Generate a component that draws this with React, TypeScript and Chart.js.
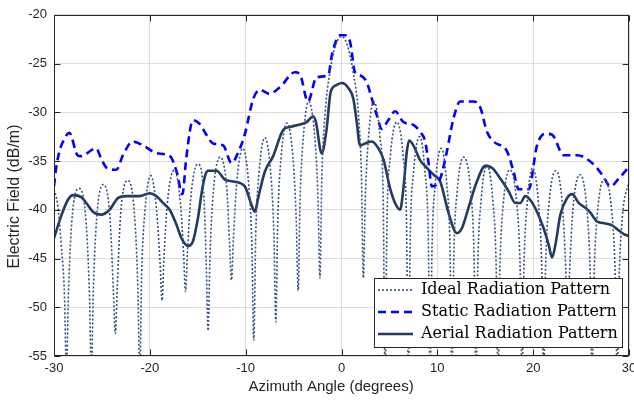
import React, { useEffect, useRef } from 'react';
import { Chart, registerables } from 'chart.js';

Chart.register(...registerables);

const seriesLabels = ['Ideal Radiation Pattern', 'Static Radiation Pattern', 'Aerial Radiation Pattern'];
const xTickValues = [-30, -20, -10, 0, 10, 20, 30];
const yTickValues = [-55, -50, -45, -40, -35, -30, -25, -20];
const xTitle = 'Azimuth Angle (degrees)';
const yTitle = 'Electric Field (dB/m)';

const idealAngle = [
  -30, -29.6, -29.25, -28.9, -28.7,
  -28.5, -28.15, -27.4, -26.65, -26.3, -26.1,
  -25.9, -25.55, -24.85, -24.15, -23.8, -23.6,
  -23.4, -23.05, -22.3, -21.6, -21.25, -21.05,
  -20.85, -20.5, -19.9, -19.3, -18.93, -18.73,
  -18.53, -18.18, -17.45, -16.8, -16.48, -16.28,
  -16.08, -15.73, -15.0, -14.35, -14.12, -13.92,
  -13.72, -13.37, -12.65, -11.95, -11.68, -11.48,
  -11.28, -10.93, -10.3, -9.7, -9.35, -9.15,
  -8.95, -8.6, -8.0, -7.4, -7.05, -6.85,
  -6.65, -6.3, -5.7, -5.07, -4.72, -4.52,
  -4.32, -3.97, -3.45, -2.8, -2.45, -2.25,
  -2.05, -1.7, -1.2, -0.6, 0, 0.6, 1.2, 1.75, 2.08, 2.28,
  2.48, 2.83, 3.35, 4.0, 4.35, 4.55,
  4.75, 5.1, 5.77, 6.43, 6.78, 6.98,
  7.18, 7.53, 8.15, 8.7, 9.05, 9.25,
  9.45, 9.8, 10.4, 10.97, 11.32, 11.52,
  11.72, 12.07, 12.75, 13.48, 13.83, 14.03,
  14.23, 14.58, 15.18, 15.78, 16.13, 16.33,
  16.53, 16.88, 17.55, 18.29, 18.64, 18.84,
  19.04, 19.39, 19.95, 20.54, 20.89, 21.09,
  21.29, 21.64, 22.38, 23.05, 23.4, 23.6,
  23.8, 24.15, 24.9, 25.6, 25.95, 26.15,
  26.35, 26.7, 27.4, 28.22, 28.57, 28.77,
  28.97, 29.32, 30,
];
const idealField = [
  -37.9, -39.6, -43.5, -49.0, -57,
  -48.8, -41.3, -37.8, -41.3, -48.8, -57,
  -48.4, -40.9, -37.4, -40.9, -48.4, -52.7,
  -48.0, -40.5, -37.0, -40.5, -48.0, -57,
  -46.5, -40.0, -36.5, -40.0, -45.5, -49.3,
  -45.0, -39.4, -35.9, -39.4, -44.5, -48.4,
  -44.5, -38.8, -35.3, -38.8, -45.3, -52.4,
  -44.6, -38.1, -34.6, -38.1, -43.5, -47.2,
  -43.0, -37.2, -33.7, -37.2, -43.7, -53.4,
  -42.6, -36.1, -32.6, -36.1, -42.6, -51.5,
  -41.1, -34.6, -31.1, -34.6, -41.1, -48.3,
  -38.9, -32.4, -28.9, -32.4, -38.9, -47.0,
  -36.5, -30.0, -25.8, -23.1, -22.2, -23.1, -25.8, -30.0, -36.5, -47.0,
  -38.9, -32.4, -28.9, -32.4, -38.9, -57,
  -41.0, -34.5, -31.0, -34.5, -41.0, -57,
  -42.5, -36.0, -32.5, -36.0, -42.5, -57,
  -43.7, -37.2, -33.7, -37.2, -43.7, -57,
  -44.6, -38.1, -34.6, -38.1, -44.6, -57,
  -45.4, -38.9, -35.4, -38.9, -45.4, -57,
  -45.9, -39.4, -35.9, -39.4, -45.9, -57,
  -45.7, -39.2, -35.7, -39.2, -45.7, -57,
  -46.0, -39.5, -36.0, -39.5, -46.0, -52,
  -46.4, -39.9, -36.4, -39.9, -46.4, -57,
  -46.9, -40.4, -36.9, -40.4, -46.9, -57,
  -47.1, -40.6, -37.1,
];

const staticAngle = [
  -30, -29.77, -29.43, -28.9, -28.4, -27.55, -27.2, -25.6, -25.1, -24.5,
  -23.5, -22.8, -21.8, -20.7, -19.3, -17.9, -17.2, -16.6, -16.2, -15.5,
  -14.8, -14.1, -13.4, -12.35, -11.48, -10.6, -10.1, -9.2, -8.5, -7.5,
  -6.4, -4.86, -4.34, -3.5, -2.6, -1.38, -1.02, -0.5, -0.16, 0.37,
  0.9, 1.41, 1.93, 2.63, 3.16, 3.68, 4.2, 4.89, 5.6, 6.46,
  7.5, 8.2, 8.73, 9.07, 9.43, 10.3, 11.0, 11.69, 12.39, 13.78,
  14.48, 15.18, 15.87, 17.27, 17.96, 18.48, 19.53, 20.4, 21.27, 21.97,
  23.18, 24.58, 26.15, 27.2, 28.07, 28.93, 30,
];
const staticField = [
  -37.6, -35.7, -34.0, -32.7, -32.1, -34.4, -34.5, -33.7, -34.7, -35.7,
  -35.9, -34.4, -33.0, -33.4, -34.2, -34.5, -36.1, -38.4, -34.7, -30.8,
  -31.2, -32.3, -33.2, -33.4, -35.2, -33.7, -32.3, -28.6, -27.7, -28.1,
  -27.4, -25.9, -26.1, -28.9, -26.4, -26.2, -24.2, -22.5, -22.1, -22.1,
  -22.8, -25.9, -26.2, -26.9, -28.6, -30.3, -31.7, -30.8, -29.9, -31.0,
  -31.3, -32.0, -33.0, -35.1, -37.6, -36.8, -34.0, -30.6, -28.9, -28.9,
  -29.5, -32.0, -33.0, -34.0, -36.1, -37.9, -37.9, -33.4, -32.2, -32.3,
  -34.4, -34.4, -35.2, -36.4, -37.6, -36.8, -35.6,
];

const aerialAngle = [
  -30, -29.2, -28.56, -28.03, -27.16, -26.63, -25.94, -25.07, -24.2, -23.33,
  -22.45, -21.06, -20.02, -19.32, -18.63, -17.93, -17.23, -16.7, -16.01, -15.49,
  -14.97, -14.55, -14.2, -13.92, -13.04, -12.18, -11.31, -10.09, -9.39, -9.04,
  -8.7, -8.0, -7.13, -6.08, -5.38, -4.16, -3.64, -2.95, -2.67, -2.07,
  -1.55, -1.13, -0.5, 0.02, 0.71, 1.23, 1.59, 1.93, 2.46, 3.16,
  3.85, 4.37, 5.07, 5.59, 6.11, 6.46, 6.82, 7.06, 7.5, 8.2,
  8.9, 9.6, 10.3, 11.16, 12.04, 12.56, 13.25, 14.13, 15.0, 15.7,
  16.57, 17.44, 18.14, 18.66, 19.18, 19.7, 20.4, 21.09, 21.62, 21.97,
  22.32, 22.84, 23.54, 24.06, 24.75, 25.45, 25.97, 26.67, 27.54, 28.24,
  28.77, 29.46, 30,
];
const aerialField = [
  -42.9, -40.5, -39.0, -38.5, -38.7, -39.3, -40.2, -40.5, -40.0, -38.8,
  -38.6, -38.6, -38.3, -38.6, -39.3, -40.0, -41.5, -42.9, -43.7, -43.2,
  -40.8, -38.0, -36.4, -36.0, -36.0, -36.9, -37.1, -37.6, -39.5, -40.2,
  -38.8, -36.1, -34.5, -31.8, -31.5, -31.2, -31.0, -30.4, -31.0, -34.2,
  -31.7, -27.9, -27.2, -27.0, -27.5, -28.6, -31.0, -33.4, -33.2, -33.0,
  -33.7, -34.8, -37.8, -39.3, -40.0, -37.8, -34.0, -32.9, -33.4, -34.9,
  -35.7, -36.4, -37.1, -40.3, -42.4, -41.9, -39.8, -37.1, -35.5, -35.7,
  -36.8, -38.1, -39.3, -39.3, -38.6, -39.0, -40.2, -41.9, -43.6, -44.9,
  -43.6, -40.5, -38.8, -38.4, -39.3, -39.8, -40.3, -41.2, -41.4, -41.6,
  -42.0, -42.5, -42.7,
];

const toPoints = (xs: number[], ys: number[]) => xs.map((x, i) => ({ x, y: ys[i] }));

const AXIS_COLOR = '#262626';

const frameLegendPlugin = {
  id: 'frameLegend',
  afterLayout(chart: any) {
    const lg = chart.legend;
    const ca = chart.chartArea;
    if (!lg) return;
    lg.left = ca.right - 257;
    lg.top = ca.bottom - 80;
    lg.right = ca.right;
    lg.bottom = ca.bottom;
  },
  afterDatasetsDraw(chart: any) {
    const { ctx, chartArea: ca, scales } = chart;
    ctx.save();
    const l = Math.round(ca.left) + 0.5;
    const r = Math.round(ca.right) - 0.5;
    const t = Math.round(ca.top) + 0.5;
    const b = Math.round(ca.bottom) - 0.5;
    ctx.strokeStyle = AXIS_COLOR;
    ctx.lineWidth = 1;
    ctx.setLineDash([]);
    ctx.strokeRect(l, t, r - l, b - t);
    const tl = 6;
    ctx.beginPath();
    scales.x.ticks.forEach((tk: any) => {
      const x = Math.round(scales.x.getPixelForValue(tk.value)) + 0.5;
      ctx.moveTo(x, b); ctx.lineTo(x, b - tl);
      ctx.moveTo(x, t); ctx.lineTo(x, t + tl);
    });
    scales.y.ticks.forEach((tk: any) => {
      const y = Math.round(scales.y.getPixelForValue(tk.value)) + 0.5;
      ctx.moveTo(l, y); ctx.lineTo(l + tl, y);
      ctx.moveTo(r, y); ctx.lineTo(r - tl, y);
    });
    ctx.stroke();

    const lg = chart.legend;
    if (lg && lg.legendHitBoxes && lg.legendHitBoxes.length) {
      const hb = lg.legendHitBoxes;
      const bl = Math.min(...hb.map((h: any) => h.left)) - 4;
      const bt = Math.min(...hb.map((h: any) => h.top)) - 4;
      const br = Math.max(...hb.map((h: any) => h.left + h.width)) + 4;
      const bb = Math.max(...hb.map((h: any) => h.top + h.height)) + 5;
      const x0 = Math.round(bl) + 0.5, y0 = Math.round(bt) + 0.5;
      const x1 = Math.round(br) + 0.5, y1 = Math.round(bb) + 0.5;
      ctx.fillStyle = '#ffffff';
      ctx.fillRect(x0, y0, x1 - x0, y1 - y0);
      ctx.strokeStyle = AXIS_COLOR;
      ctx.lineWidth = 1;
      ctx.strokeRect(x0, y0, x1 - x0, y1 - y0);
      ctx.restore();
      lg.draw();
    } else {
      ctx.restore();
    }
  },
};

export default function App() {
  const ref = useRef<HTMLCanvasElement>(null);
  useEffect(() => {
    const canvas = ref.current;
    if (!canvas) return;
    const sans = '"Liberation Sans", Arial, Helvetica, sans-serif';
    const tickFont = { family: sans, size: 13 };
    const chart = new Chart(canvas, {
      type: 'line',
      data: {
        datasets: [
          {
            label: seriesLabels[0],
            data: toPoints(idealAngle, idealField),
            borderColor: '#34507f',
            backgroundColor: '#34507f',
            borderWidth: 1.6,
            borderDash: [2, 2],
            pointRadius: 0,
            cubicInterpolationMode: 'monotone',
            clip: 0,
          },
          {
            label: seriesLabels[1],
            data: toPoints(staticAngle, staticField),
            borderColor: '#0000ff',
            backgroundColor: '#0000ff',
            borderWidth: 2.6,
            borderDash: [8, 5],
            pointRadius: 0,
            cubicInterpolationMode: 'monotone',
            clip: 0,
          },
          {
            label: seriesLabels[2],
            data: toPoints(aerialAngle, aerialField),
            borderColor: '#243a60',
            backgroundColor: '#243a60',
            borderWidth: 2.6,
            pointRadius: 0,
            cubicInterpolationMode: 'monotone',
            clip: 0,
          },
        ] as any,
      },
      options: {
        animation: false,
        responsive: false,
        maintainAspectRatio: false,
        events: [],
        layout: { padding: { left: 0, right: 5, top: 12, bottom: 0 } },
        plugins: {
          tooltip: { enabled: false },
          legend: {
            display: true,
            position: 'chartArea' as any,
            align: 'start',
            labels: {
              usePointStyle: true,
              pointStyleWidth: 35,
              padding: 6,
              color: '#000000',
              font: { family: '"DejaVu Serif", "Liberation Serif", serif', size: 16 },
              generateLabels: (ch: any) =>
                ch.data.datasets.map((ds: any, i: number) => ({
                  text: ds.label,
                  strokeStyle: ds.borderColor,
                  fillStyle: ds.borderColor,
                  lineWidth: ds.borderWidth,
                  lineDash: ds.borderDash || [],
                  lineCap: 'butt',
                  pointStyle: 'line',
                  hidden: false,
                  fontColor: '#000000',
                  datasetIndex: i,
                })),
            },
          },
        },
        scales: {
          x: {
            type: 'linear',
            min: -30,
            max: 30,
            afterBuildTicks: (s: any) => { s.ticks = xTickValues.map((v) => ({ value: v })); },
            afterFit: (s: any) => { s.height = 45; s.paddingLeft = 0; s.paddingRight = 0; },
            grid: { color: '#dedede', lineWidth: 1, drawTicks: false },
            border: { display: false },
            ticks: { color: AXIS_COLOR, font: tickFont, padding: 5, maxRotation: 0 },
            title: { display: true, text: xTitle + '     ', color: AXIS_COLOR, font: { family: sans, size: 15 }, padding: { top: 0, bottom: 5 } },
          },
          y: {
            type: 'linear',
            min: -55,
            max: -20,
            afterBuildTicks: (s: any) => { s.ticks = yTickValues.map((v) => ({ value: v })); },
            afterFit: (s: any) => { s.width = 54; },
            grid: { color: '#dedede', lineWidth: 1, drawTicks: false },
            border: { display: false },
            ticks: { color: AXIS_COLOR, font: tickFont, padding: 7 },
            title: { display: true, text: yTitle + '     ', color: AXIS_COLOR, font: { family: sans, size: 16 }, padding: { top: 5, bottom: 0 } },
          },
        },
      } as any,
      plugins: [frameLegendPlugin as any],
    });
    return () => chart.destroy();
  }, []);
  return (
    <div style={{ position: 'fixed', left: 0, top: 0, width: 634, height: 401, background: '#ffffff' }}>
      <canvas ref={ref} width={634} height={401} style={{ width: 634, height: 401, display: 'block' }} />
    </div>
  );
}
